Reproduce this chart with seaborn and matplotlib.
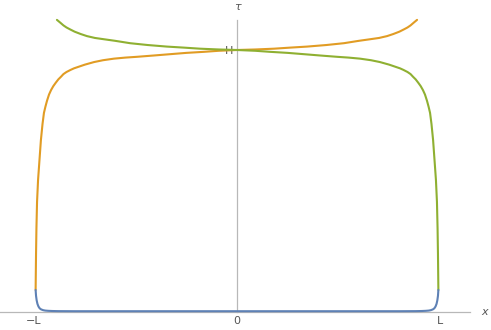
import matplotlib
matplotlib.use('Agg')
import matplotlib.pyplot as plt
import seaborn as sns

# data in units of L (x) and H (tau)
blue_x = [-0.992, -0.990, -0.987, -0.983, -0.978, -0.972, -0.965, -0.955, -0.945, -0.930,
          -0.910, -0.880, -0.80, 0.0, 0.80, 0.880, 0.910, 0.930, 0.945, 0.955, 0.965,
          0.972, 0.978, 0.983, 0.987, 0.990, 0.992]
blue_y = [0.084, 0.062, 0.045, 0.031, 0.021, 0.014, 0.010, 0.007, 0.0055, 0.0045,
          0.0038, 0.0033, 0.003, 0.003, 0.003, 0.0033, 0.0038, 0.0045, 0.0055, 0.007, 0.010,
          0.014, 0.021, 0.031, 0.045, 0.062, 0.084]

orange_x = [-0.992, -0.990, -0.988, -0.985, -0.980, -0.973, -0.966, -0.958, -0.951,
            -0.944, -0.936, -0.926, -0.916, -0.905, -0.893, -0.880, -0.867, -0.855,
            -0.840, -0.820, -0.803, -0.750, -0.704, -0.660, -0.606, -0.550, -0.493,
            -0.410, -0.330, -0.250, -0.163, -0.090, 0.0, 0.090, 0.182, 0.260, 0.345,
            0.440, 0.527, 0.600, 0.655, 0.700, 0.739, 0.770, 0.800, 0.823, 0.840,
            0.855, 0.870, 0.887]
orange_y = [0.084, 0.220, 0.320, 0.420, 0.504, 0.580, 0.656, 0.718, 0.760,
            0.783, 0.806, 0.830, 0.847, 0.862, 0.875, 0.888, 0.898, 0.908,
            0.916, 0.924, 0.930, 0.944, 0.954, 0.961, 0.967, 0.971, 0.974,
            0.979, 0.984, 0.989, 0.993, 0.997, 1.0, 1.002, 1.005, 1.009, 1.013,
            1.019, 1.026, 1.035, 1.041, 1.046, 1.053, 1.061, 1.070, 1.079, 1.086,
            1.094, 1.104, 1.115]

green_x = [-0.887, -0.870, -0.855, -0.840, -0.823, -0.800, -0.770, -0.739, -0.700,
           -0.655, -0.600, -0.527, -0.440, -0.345, -0.260, -0.182, -0.090, 0.0,
           0.090, 0.163, 0.250, 0.330, 0.410, 0.493, 0.550, 0.606, 0.660, 0.704,
           0.750, 0.803, 0.820, 0.840, 0.855, 0.867, 0.880, 0.893, 0.905, 0.916,
           0.926, 0.936, 0.944, 0.951, 0.958, 0.966, 0.973, 0.980, 0.985, 0.988,
           0.990, 0.992]
green_y = [1.115, 1.104, 1.094, 1.086, 1.079, 1.070, 1.061, 1.053, 1.046,
           1.041, 1.035, 1.026, 1.019, 1.013, 1.009, 1.005, 1.002, 1.0,
           0.997, 0.993, 0.989, 0.984, 0.979, 0.974, 0.971, 0.967, 0.961, 0.954,
           0.944, 0.930, 0.924, 0.916, 0.908, 0.898, 0.888, 0.875, 0.862, 0.847,
           0.830, 0.806, 0.783, 0.760, 0.718, 0.656, 0.580, 0.504, 0.420, 0.320,
           0.220, 0.084]

sns.set_style("white")
fig = plt.figure(figsize=(4.91, 3.30), dpi=100)
ax = fig.add_axes([0, 0, 1, 1])

sns.lineplot(x=orange_x, y=orange_y, sort=False, estimator=None, color='#E19C24', lw=1.5, ax=ax)
sns.lineplot(x=green_x, y=green_y, sort=False, estimator=None, color='#8FB032', lw=1.5, ax=ax)
sns.lineplot(x=blue_x, y=blue_y, sort=False, estimator=None, color='#5E81B5', lw=1.5, ax=ax)

ax.set_xlim(-237 / 203, (491 - 237) / 203)
ax.set_ylim((312 - 330) / 262, 312 / 262)

for s in ['top', 'right']:
    ax.spines[s].set_visible(False)
ax.spines['bottom'].set_position(('data', 0))
ax.spines['left'].set_position(('data', 0))
ax.spines['bottom'].set_bounds(-237 / 203, 1.148)
ax.spines['left'].set_bounds(0, 1.115)
for s in ['bottom', 'left']:
    ax.spines[s].set_color('#b8b8b8')
    ax.spines[s].set_linewidth(0.9)
    ax.spines[s].set_zorder(0)

ax.set_xticks([-1, 0, 1])
ax.set_xticklabels(['\u2212L', '0', 'L'])
ax.set_yticks([1])
ax.set_yticklabels(['H'])
ax.tick_params(axis='both', direction='in', length=3, width=0.8, color='#b8b8b8',
               labelcolor='#555555', labelsize=8, pad=3)

ax.text(1.222, 0, 'x', color='#555555', fontsize=8, style='italic', ha='center', va='center')
ax.text(0, 1.164, '\u03c4', color='#555555', fontsize=8, style='italic', ha='center', va='center')

fig.savefig('out.png', dpi=100)
